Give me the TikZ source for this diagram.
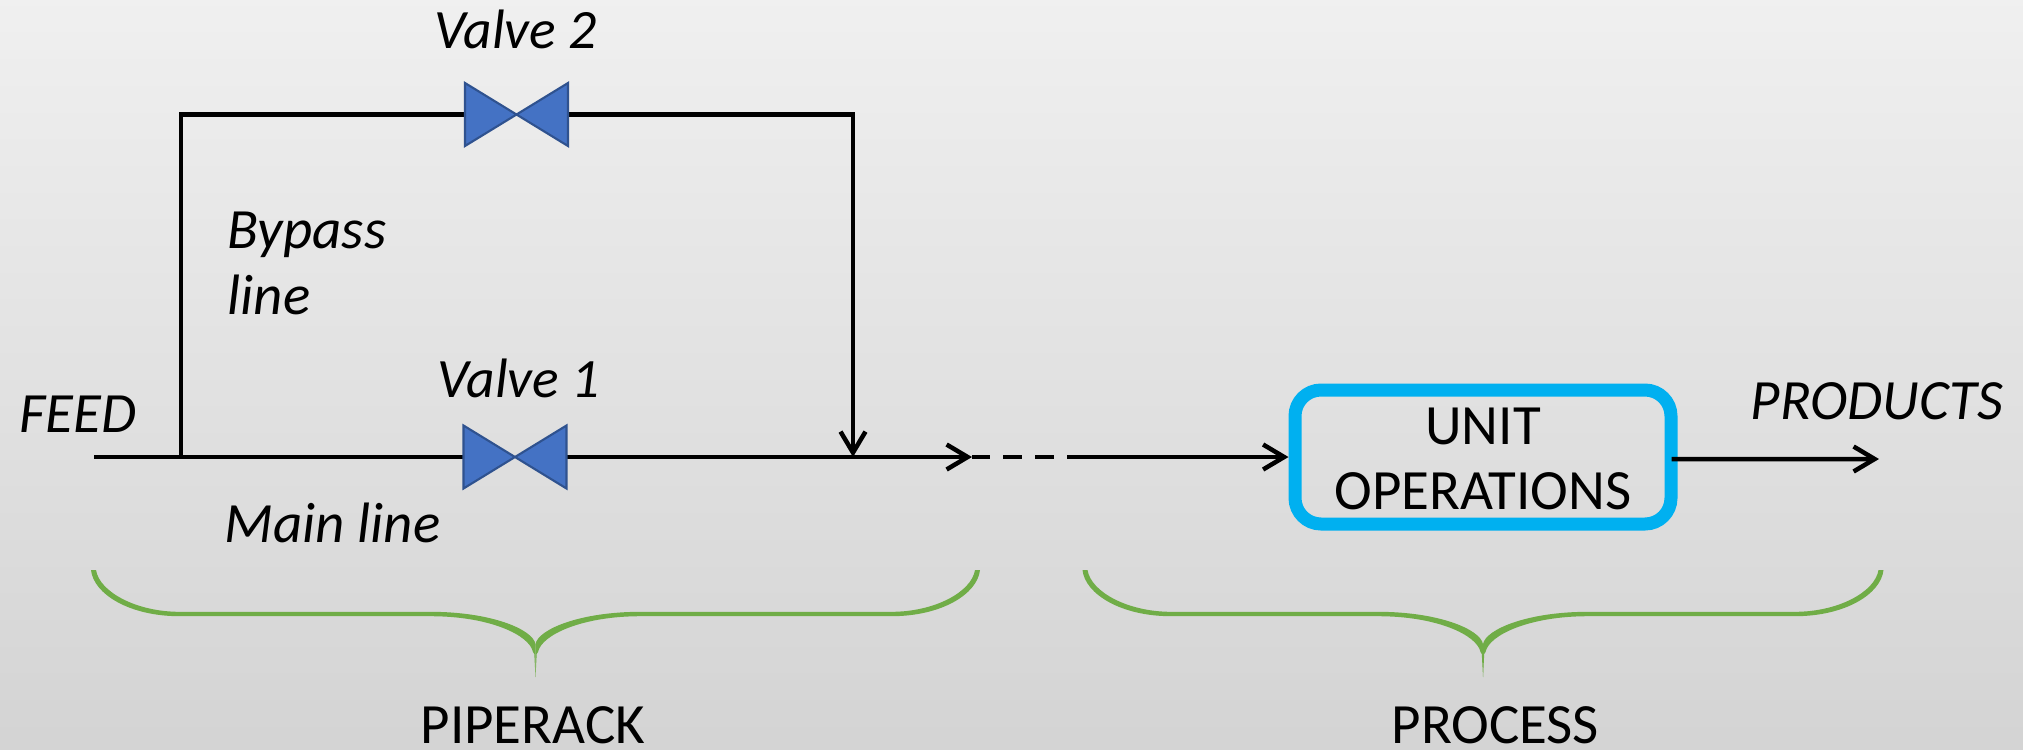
\documentclass[tikz,border=0pt]{standalone}
\usepackage{fontspec}
\setmainfont{Carlito}
\usetikzlibrary{arrows.meta}
\definecolor{valveblue}{HTML}{4472C4}
\definecolor{valveedge}{HTML}{2F528F}
\definecolor{unitblue}{HTML}{00B0F0}
\definecolor{bracegreen}{HTML}{70AD47}
\tikzset{
  pipe/.style={line width=.045cm},
  pipearrow/.style={pipe,-{Straight Barb[length=.21cm,width=.25cm]}},
  valvebox/.style={minimum width=1.03cm,minimum height=.63cm,inner sep=0,outer sep=0},
  tag/.style={inner sep=0,anchor=base west,font=\fontsize{16.2}{18}\selectfont\itshape},
  valvetag/.style={tag,font=\fontsize{15.8}{18}\selectfont\itshape},
  caps/.style={inner sep=0,anchor=base west,font=\fontsize{16.2}{18}\selectfont},
}
\begin{document}
\begin{tikzpicture}
  \useasboundingbox (0,0) rectangle (20.23,7.49);
  \shade [top color=black!6,bottom color=black!17] (0,0) rectangle (20.23,7.49);

  \node[valvebox] (valveA) at (5.15,2.92){};
  \node[valvebox] (valveB) at (5.165,6.345){};
  \node[draw=unitblue,line width=.13cm,rounded corners=.26cm,minimum width=3.76cm,minimum height=1.34cm] (unit) at (14.83,2.92){};

  \coordinate (feedin) at (.94,2.92);
  \coordinate (split) at (1.81,2.92);
  \coordinate (rejoin) at (8.53,2.92);
  \coordinate (rackend) at (9.72,2.92);
  \coordinate (stubend) at (9.90,2.92);
  \coordinate (gapA) at (10.03,2.92);
  \coordinate (gapB) at (10.54,2.92);
  \coordinate (procin) at (10.67,2.92);
  \coordinate (prodend) at (18.79,2.90);

  \draw[pipe] (feedin)--(valveA.west);
  \draw[pipearrow] (valveA.east)--(rackend);
  \draw[pipe] (rackend)--(stubend);
  \draw[pipe,dash pattern=on .19cm off .13cm] (gapA)--(gapB);
  \draw[pipearrow] (procin)--(unit.west);
  \draw[pipearrow] (unit.east)++(-.06,-.02)--(prodend);

  % bypass
  \draw[pipe] (split)|-(valveB.west);
  \draw[pipearrow] (valveB.east)-|(rejoin);

  \foreach \vlv in {valveA,valveB}
    \draw[fill=valveblue,draw=valveedge,line width=.6pt] (\vlv.north west)--(\vlv.south east)--(\vlv.north east)--(\vlv.south west)--cycle;

  % braces, half width is the second value
  \foreach \xc/\hw in {5.355/4.42,14.83/3.98}
    \foreach \sd in {-1,1}
      \fill[bracegreen,shift={(\xc,0)},xscale=\sd] (0,.72)
        -- (.012,.95) -- (.025,.97)
        .. controls (.06,1.14) and (.46,1.328) .. (1.05,1.328)
        -- (\hw-.86,1.328)
        .. controls (\hw-.36,1.328) and (\hw,1.55) .. (\hw+.025,1.79)
        -- (\hw-.025,1.79)
        .. controls (\hw-.06,1.57) and (\hw-.43,1.372) .. (\hw-.86,1.372)
        -- (1.05,1.372)
        .. controls (.45,1.372) and (.03,1.2) .. (0,1.05) -- cycle;

  \node[valvetag] (lblvalveB) at (4.34,7.01){Valve 2};
  \node[valvetag] (lblvalveA) at (4.37,3.52){Valve 1};
  \node[tag] (lblbypass) at (2.27,5.01){Bypass};
  \node[tag] (lblline) at (2.27,4.35){line};
  \node[tag] (lblfeed) at (.19,3.17){FEED};
  \node[tag] (lblmain) at (2.24,2.07){Main line};
  \node[tag] (lblprod) at (17.50,3.30){PRODUCTS};
  \node[caps,anchor=base] (lblunit) at (14.83,3.05){UNIT};
  \node[caps,anchor=base] (lblops) at (14.83,2.40){OPERATIONS};
  \node[caps] (lblrack) at (4.20,.06){PIPERACK};
  \node[caps] (lblproc) at (13.91,.06){PROCESS};
\end{tikzpicture}
\end{document}
